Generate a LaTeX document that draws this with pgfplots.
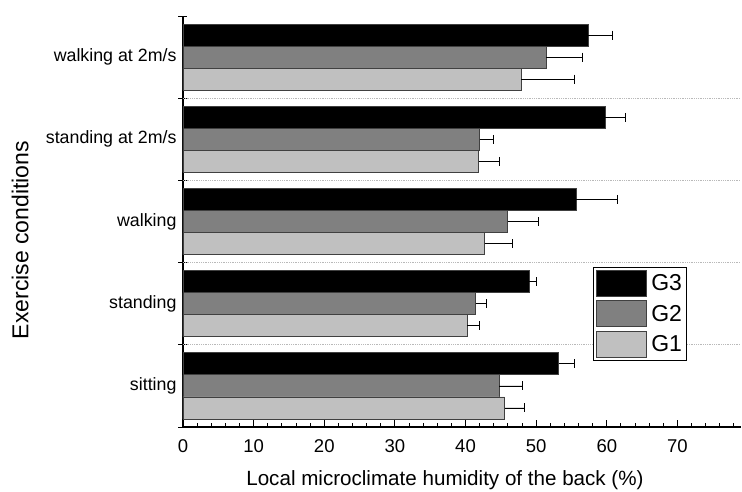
\documentclass[border=0pt]{standalone}
\usepackage{fontspec}
\setmainfont{Liberation Sans}
\usepackage{pgfplots}
\pgfplotsset{compat=1.18}
\definecolor{gthree}{RGB}{0,0,0}
\definecolor{gtwo}{RGB}{128,128,128}
\definecolor{gone}{RGB}{192,192,192}
\pgfplotsset{boxlegend/.style={legend image code/.code={\draw[##1] (0pt,-13pt) rectangle (50pt,13pt);}}}
\begin{document}
\begin{tikzpicture}
\useasboundingbox (-183pt,-64pt) rectangle (559pt,427pt);
\begin{axis}[
  at={(0,0)}, anchor=south west,
  scale only axis, width=558pt, height=411pt,
  xmin=0, xmax=79, ymin=-0.5, ymax=4.5,
  axis x line*=bottom, axis y line*=left,
  axis line style={line width=1.2pt, black},
  xbar, bar width=0.268,
  tick align=inside,
  major tick length=3pt, minor tick length=4pt,
  tick style={black, line width=1pt},
  xtick={0,10,...,70},
  minor xtick={2,4,6,8,12,14,16,18,22,24,26,28,32,34,36,38,42,44,46,48,52,54,56,58,62,64,66,68,72,74,76,78},
  extra x ticks={0,10,...,70}, extra x tick labels={},
  extra x tick style={major tick length=7.5pt},
  ytick={0,1,2,3,4},
  yticklabels={sitting,standing,walking,standing at 2m/s,walking at 2m/s},
  extra y ticks={-0.5,0.5,1.5,2.5,3.5,4.5}, extra y tick labels={},
  extra y tick style={tick align=center, major tick length=9pt},
  /pgf/number format/assume math mode=true,
  xticklabel style={font=\fontsize{18.5}{21}\selectfont, yshift=-9pt},
  yticklabel style={font=\fontsize{17.8}{20}\selectfont, xshift=-3pt},
  xlabel={Local microclimate humidity of the back (\%)},
  ylabel={Exercise conditions},
  xlabel style={font=\fontsize{20.6}{24}\selectfont, at={(axis description cs:0.4695,-0.130)}, anchor=center},
  ylabel style={font=\fontsize{23}{26}\selectfont, at={(axis description cs:-0.292,0.455)}, anchor=center},
  legend style={at={(rel axis cs:0.735,0.389)}, anchor=north west,
    draw=black, line width=0.8pt, inner sep=2pt, row sep=4pt,
    font=\fontsize{23}{26}\selectfont, cells={anchor=west}},
  error bars/error bar style={line width=0.8pt, black},
  error bars/error mark options={black, rotate=90, mark size=4.5pt, line width=0.8pt},
  clip=false,
]
\draw[gray!55, densely dotted, line width=0.8pt] (axis cs:0,0.5) -- (axis cs:79,0.5);
\draw[gray!55, densely dotted, line width=0.8pt] (axis cs:0,1.5) -- (axis cs:79,1.5);
\draw[gray!55, densely dotted, line width=0.8pt] (axis cs:0,2.5) -- (axis cs:79,2.5);
\draw[gray!55, densely dotted, line width=0.8pt] (axis cs:0,3.5) -- (axis cs:79,3.5);
\addplot[fill=gthree, draw=black!75, line width=0.8pt, bar shift=0.268, boxlegend,
  error bars/.cd, x dir=plus, x explicit]
  coordinates {(53.2,0) +- (2.2,0) (49.0,1) +- (1.1,0) (55.7,2) +- (5.75,0) (59.8,3) +- (2.85,0) (57.35,4) +- (3.4,0)};
\addlegendentry{\hspace{3pt}G3\hspace{5pt}}
\addplot[fill=gtwo, draw=black!75, line width=0.8pt, bar shift=0, boxlegend,
  error bars/.cd, x dir=plus, x explicit]
  coordinates {(44.75,0) +- (3.25,0) (41.45,1) +- (1.55,0) (45.95,2) +- (4.4,0) (42.0,3) +- (2.0,0) (51.4,4) +- (5.2,0)};
\addlegendentry{\hspace{3pt}G2\hspace{5pt}}
\addplot[fill=gone, draw=black!75, line width=0.8pt, bar shift=-0.268, boxlegend,
  error bars/.cd, x dir=plus, x explicit]
  coordinates {(45.55,0) +- (2.85,0) (40.25,1) +- (1.7,0) (42.7,2) +- (3.9,0) (41.85,3) +- (2.9,0) (47.9,4) +- (7.45,0)};
\addlegendentry{\hspace{3pt}G1\hspace{5pt}}
\end{axis}
\end{tikzpicture}
\end{document}
